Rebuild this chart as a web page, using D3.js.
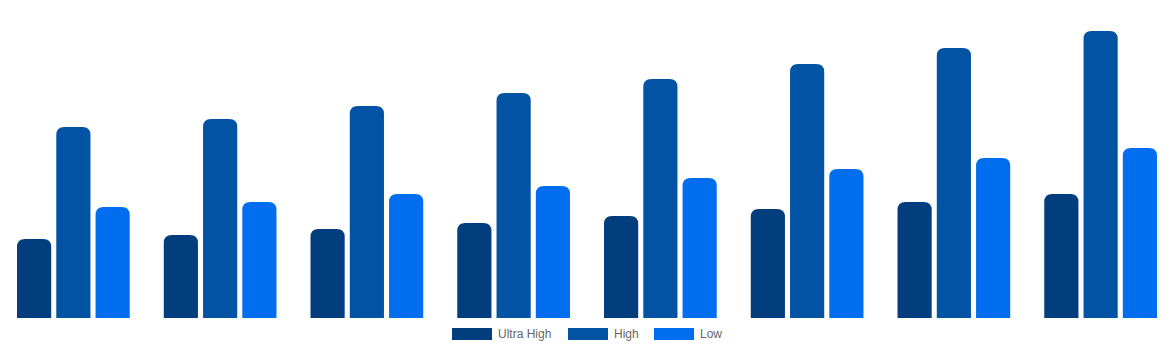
<!DOCTYPE html>
<html>
<head>
<meta charset="utf-8">
<script src="https://cdn.jsdelivr.net/npm/d3@7"></script>
<style>
  body { margin: 0; background: #fff; }
  svg { display: block; font-family: "Liberation Sans", Arial, sans-serif; }
</style>
</head>
<body>
<svg id="chart"></svg>
<script>
// data (no axis shown, so values are relative)
var categories = ["P1", "P2", "P3", "P4", "P5", "P6", "P7", "P8"];
var seriesNames = ["Ultra High", "High", "Low"];
var ultraHigh = [79, 83, 89, 95, 102, 109, 116, 124];
var high = [191, 199, 212, 225, 239, 254, 270, 287];
var low = [111, 116, 124, 132, 140, 149, 160, 170];
var colors = ["#023e7d", "#0353a4", "#006eee"];

var width = 1174, height = 350;
var svg = d3.select("#chart").attr("width", width).attr("height", height);

var x0 = d3.scaleBand().domain(categories).range([0, width]).paddingInner(0.232).paddingOuter(0.116);
var x1 = d3.scaleBand().domain(seriesNames).range([0, x0.bandwidth()]).paddingInner(0.13);
var y = d3.scaleLinear().domain([0, 300]).range([318, 18]);

var rows = categories.map(function(c, i) {
    return {cat: c, vals: [ultraHigh[i], high[i], low[i]]};
});

// rounded top corners only
function barPath(x, yTop, w, y0, r) {
    r = Math.min(r, w / 2, y0 - yTop);
    return "M" + x + "," + y0 +
        "V" + (yTop + r) +
        "Q" + x + "," + yTop + " " + (x + r) + "," + yTop +
        "H" + (x + w - r) +
        "Q" + (x + w) + "," + yTop + " " + (x + w) + "," + (yTop + r) +
        "V" + y0 + "Z";
}

var groups = svg.append("g")
    .selectAll("g")
    .data(rows)
    .join("g")
    .attr("transform", d => "translate(" + x0(d.cat) + ",0)");

groups.selectAll("path")
    .data(d => d.vals.map((v, j) => ({name: seriesNames[j], v: v, j: j})))
    .join("path")
    .attr("fill", d => colors[d.j])
    .attr("d", d => barPath(x1(d.name), y(d.v), x1.bandwidth(), y(0), 8));

// legend
var legend = svg.append("g").attr("transform", "translate(452,328)");
var lx = [0, 116, 202];
seriesNames.forEach(function(n, i) {
    var g = legend.append("g").attr("transform", "translate(" + lx[i] + ",0)");
    g.append("rect").attr("width", 40).attr("height", 12).attr("fill", colors[i]);
    g.append("text").attr("x", 46).attr("y", 10).attr("font-size", 12)
        .attr("fill", "#666").text(n);
});
</script>
</body>
</html>
